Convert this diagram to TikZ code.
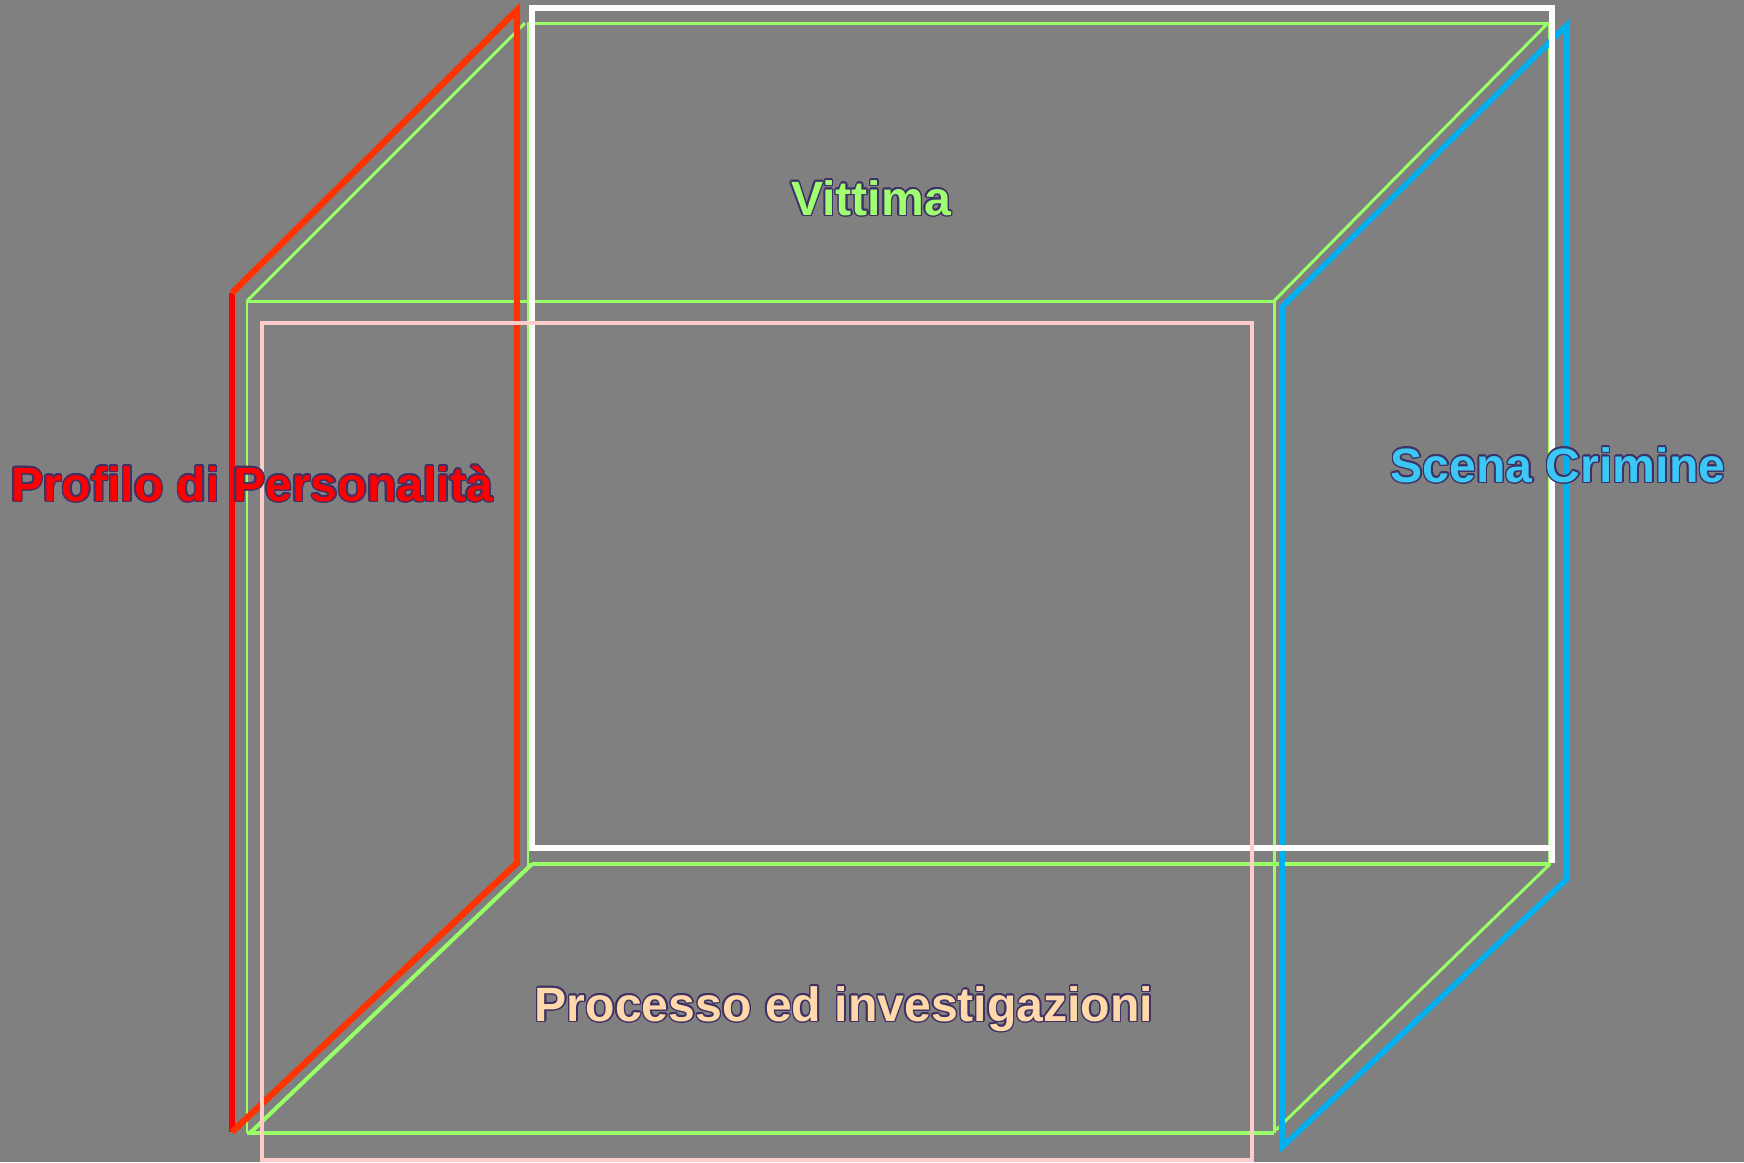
\documentclass[tikz,border=0pt]{standalone}
\usepackage{fontspec}
\setmainfont{Liberation Sans}
\usepackage{contour}
\contourlength{0.4pt}
\contournumber{16}
\usepackage{tikz}

\definecolor{sfondo}{HTML}{808080}
\definecolor{verde}{HTML}{99FF66}
\definecolor{rosso}{HTML}{FF0000}
\definecolor{arancio}{HTML}{FF3300}
\definecolor{azzurro}{HTML}{00B0F0}
\definecolor{rosa}{HTML}{FFCCCC}
\definecolor{bordo}{HTML}{3F3166}
\definecolor{testoblu}{HTML}{3CC8F5}
\definecolor{testoverde}{HTML}{A0FF70}
\definecolor{pesca}{HTML}{FFD9AA}

\tikzset{
  etichetta/.style={font=\fontsize{13.7}{16}\selectfont\bfseries, inner sep=0pt, anchor=base},
}

\begin{document}
\begin{tikzpicture}[x=0.01cm,y=-0.01cm]
  \fill[sfondo] (0,0) rectangle (1744,1162);
  % cubo verde
  \draw[verde, line width=0.85pt] (528,23) rectangle (1549,864);
  \draw[verde, line width=1.15pt] (532,864) -- (1550,864);
  \draw[verde, line width=0.85pt] (247,301) -- (1274,301);
  \draw[verde, line width=0.85pt] (247,301) -- (247,1133);
  \draw[verde, line width=0.85pt] (1274,301) -- (1274,1133);
  \draw[verde, line width=1.15pt] (247,1133) -- (1274,1133);
  \draw[verde, line width=0.85pt] (247,301) -- (525,23);
  \draw[verde, line width=0.85pt] (1274,301) -- (1548,23);
  \draw[verde, line width=1.15pt] (250,1133) -- (532,864);
  \draw[verde, line width=0.85pt] (1276,1130) -- (1550,864);
  % scena crimine
  \draw[azzurro, line width=1.6pt, line join=miter] (1282,1147) -- (1282,307) -- (1567,25) -- (1567,879) -- cycle;
  % profilo
  \draw[rosso, line width=1.7pt] (232,1132) -- (232,293);
  \draw[arancio, line width=1.8pt, line join=miter] (232,293) -- (517,10) -- (517,863) -- (232,1132);
  % vittima
  \draw[white, line width=1.7pt] (532,8) rectangle (1552,848);
  \draw[white, line width=1.7pt] (1552,848) -- (1552,863);
  % processo
  \draw[rosa, line width=1.4pt] (262,323) rectangle (1252,1160);

  \node[etichetta] (vittima) at (871,215) {\contour{bordo}{\textcolor{testoverde}{Vittima}}};
  \node[etichetta] (profilo) at (252,501) {\contour{bordo}{\textcolor{rosso}{Profilo di Personalità}}};
  \node[etichetta] (scena) at (1558,482) {\contour{bordo}{\textcolor{testoblu}{Scena Crimine}}};
  \node[etichetta] (processo) at (844,1021) {\contour{bordo}{\textcolor{pesca}{Processo ed investigazioni}}};
\end{tikzpicture}
\end{document}
